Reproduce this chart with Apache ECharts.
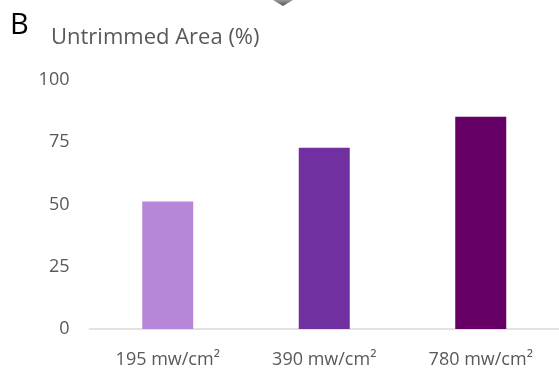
<!DOCTYPE html>
<html>
<head>
<meta charset="utf-8">
<script src="https://cdn.jsdelivr.net/npm/echarts@6/dist/echarts.min.js"></script>
<style>
html,body{margin:0;padding:0;background:#fff;}
#c{width:559px;height:369px;}
</style>
</head>
<body>
<div id="c"></div>
<script>
const categories = ['195 mw/cm²', '390 mw/cm²', '780 mw/cm²'];
const values = [51.2, 72.8, 85.2];
const barColors = ['#B687D9', '#7030A0', '#660066'];
const yTicks = [0, 25, 50, 75, 100];

const chart = echarts.init(document.getElementById('c'), null, {renderer: 'canvas'});
const font = '"Open Sans", sans-serif';
chart.setOption({
  animation: false,
  backgroundColor: '#ffffff',
  title: [
    {text: 'B', left: 5, top: 6, textStyle: {fontFamily: font, fontSize: 29, fontWeight: 'normal', color: '#000000'}},
    {text: 'Untrimmed Area (%)', left: 46, top: 22, textStyle: {fontFamily: font, fontSize: 22, fontWeight: 'normal', color: '#595959'}}
  ],
  graphic: [{
    type: 'polygon',
    shape: {points: [[273, 0], [293, 0], [283, 6]]},
    style: {fill: new echarts.graphic.LinearGradient(0, 0, 0, 1, [{offset: 0, color: '#9a9a9a'}, {offset: 1, color: '#505050'}])}
  }],
  grid: {left: 89.5, top: 80, width: 474, height: 250, containLabel: false},
  xAxis: {
    type: 'category',
    data: categories,
    axisLine: {show: true, lineStyle: {color: '#D9D9D9', width: 1.5}},
    axisTick: {show: false},
    axisLabel: {fontFamily: font, fontSize: 18, color: '#595959', margin: 22}
  },
  yAxis: {
    type: 'value',
    min: yTicks[0],
    max: yTicks[yTicks.length - 1],
    interval: 25,
    splitLine: {show: false},
    axisLine: {show: false},
    axisTick: {show: false},
    axisLabel: {fontFamily: font, fontSize: 18, color: '#595959', margin: 20}
  },
  series: [{
    type: 'bar',
    barWidth: 51,
    data: values.map((v, i) => ({value: v, itemStyle: {color: barColors[i]}}))
  }]
});
</script>
</body>
</html>
